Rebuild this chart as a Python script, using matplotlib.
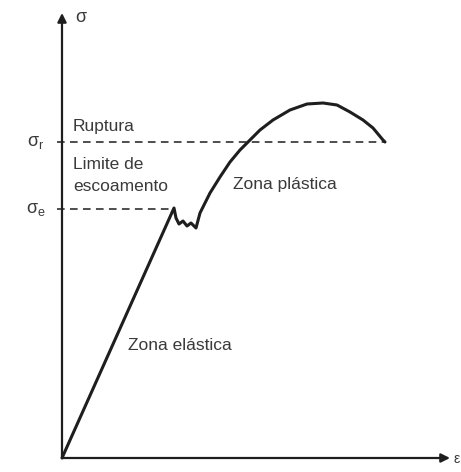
import matplotlib.pyplot as plt

plt.rcParams['font.family'] = ['Liberation Sans', 'DejaVu Sans']
plt.rcParams['mathtext.fontset'] = 'custom'
plt.rcParams['mathtext.rm'] = 'Liberation Sans'

# stress-strain curve (arbitrary units: strain along x, stress along y)
strain = [0, 112, 114, 117, 121, 125, 129, 134, 138, 148, 158, 168, 178,
          188, 198, 211, 228, 245, 261, 275, 288, 301, 311, 321, 323]
stress = [0, 250, 240, 234, 237, 232, 235, 230, 245, 265, 281, 296, 308,
          318, 328, 338, 348, 354, 355, 353, 346, 338, 330, 318, 316]

sigma_r = 316          # rupture stress
sigma_e = 249          # yield stress
strain_r = 323         # strain at rupture
strain_e = 112         # strain at yield

fig = plt.figure(figsize=(4.61, 4.72), dpi=100)
ax = fig.add_axes([62 / 461, 14 / 472, 388 / 461, 445 / 472])
ax.set_xlim(0, 388)
ax.set_ylim(0, 445)
ax.axis('off')

ink = '#1e1e1e'
txt = '#3a3a3a'

# axes with arrow heads
for end in [(388, 0), (0, 445)]:
    ax.annotate('', xy=end, xytext=(0, 0),
                arrowprops=dict(arrowstyle='-|>', color=ink, lw=1.6,
                                mutation_scale=13, shrinkA=0, shrinkB=0),
                annotation_clip=False)

ax.plot(strain, stress, color=ink, lw=2.2, solid_joinstyle='round',
        solid_capstyle='round', clip_on=False)

ax.plot([-5, strain_r], [sigma_r, sigma_r], color=ink, lw=1.1,
        dashes=(5, 3.5), clip_on=False)
ax.plot([-5, strain_e], [sigma_e, sigma_e], color=ink, lw=1.1,
        dashes=(5, 3.5), clip_on=False)

ax.text(-26, sigma_r - 1, r'$\mathrm{\sigma_r}$', fontsize=13, color=txt,
        ha='center', va='center')
ax.text(-26, sigma_e - 1, r'$\mathrm{\sigma_e}$', fontsize=13, color=txt,
        ha='center', va='center')
ax.text(19, 440, r'$\mathrm{\sigma}$', fontsize=13, color=txt,
        ha='center', va='center')
ax.text(391, -1, r'$\mathrm{\varepsilon}$', fontsize=10, color=txt,
        ha='left', va='center', clip_on=False)

ax.text(11, 331, 'Ruptura', fontsize=12.5, color=txt, va='center')
ax.text(11, 293, 'Limite de', fontsize=12.5, color=txt, va='center')
ax.text(11, 271, 'escoamento', fontsize=12.5, color=txt, va='center')
ax.text(171, 273, 'Zona plástica', fontsize=12.5, color=txt, va='center')
ax.text(66, 113, 'Zona elástica', fontsize=12.5, color=txt, va='center')

fig.savefig('out.png', dpi=100, facecolor='white')
